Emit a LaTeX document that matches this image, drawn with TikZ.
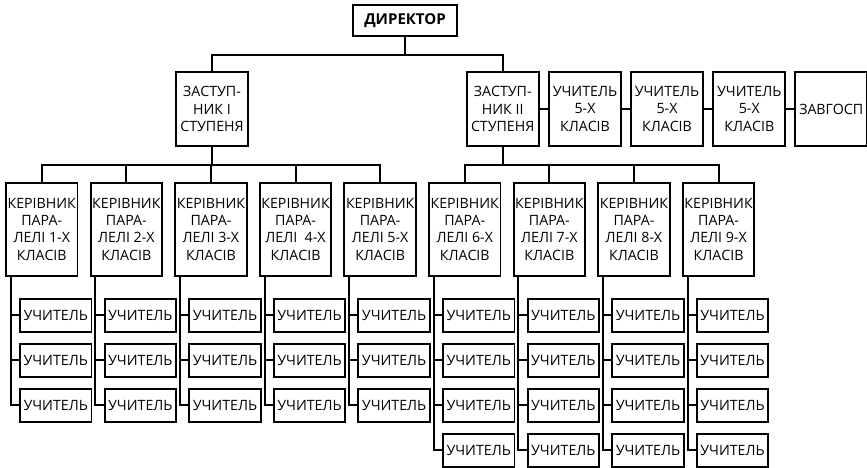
\documentclass[tikz,border=0pt]{standalone}
\usepackage{fontspec}
\setmainfont{Open Sans}
\begin{document}
\begin{tikzpicture}[x=1pt,y=-1pt,
  box/.style={draw,line width=1.9pt,inner sep=0pt,align=center,font=\fontsize{14.2}{17.3}\selectfont},
  conn/.style={line width=1.9pt}]
\useasboundingbox (0,0) rectangle (867,468);
\node[box,minimum width=104pt,minimum height=31pt,font=\fontsize{15}{17.3}\selectfont\bfseries] (dir) at (405,20.5) {ДИРЕКТОР};
\node[box,minimum width=72pt,minimum height=74pt] (depA) at (212,109) {ЗАСТУП-\\НИК І\\СТУПЕНЯ};
\node[box,minimum width=72pt,minimum height=74pt] (depB) at (502.7,109) {ЗАСТУП-\\НИК ІІ\\СТУПЕНЯ};
\node[box,minimum width=72pt,minimum height=74pt] (u1) at (585,109) {УЧИТЕЛЬ\\5-Х\\КЛАСІВ};
\node[box,minimum width=72pt,minimum height=74pt] (u2) at (667,109) {УЧИТЕЛЬ\\5-Х\\КЛАСІВ};
\node[box,minimum width=72pt,minimum height=74pt] (u3) at (749.3,109) {УЧИТЕЛЬ\\5-Х\\КЛАСІВ};
\node[box,minimum width=72pt,minimum height=74pt] (zav) at (831.2,109) {ЗАВГОСП};
\draw[conn] (dir.south) -- ++(0,18) coordinate (jt) -| (depA.north);
\draw[conn] (jt) -| (depB.north);
\draw[conn] (depB.east) -- (u1.west);
\draw[conn] (u1.east) -- (u2.west);
\draw[conn] (u2.east) -- (u3.west);
\draw[conn] (u3.east) -- (zav.west);
\foreach \i/\lab/\n in {1/1-Х/3,2/2-Х/3,3/3-Х/3,4/{\ 4-Х}/3,5/5-Х/3,6/6-Х/4,7/7-Х/4,8/8-Х/4,9/9-Х/4}{
  \pgfmathsetmacro{\hx}{41.75+84.6*(\i-1)}
  \node[box,minimum width=71.5pt,minimum height=93.3pt] (h\i) at (\hx,229.3) {КЕРІВНИК\\ПАРА-\\ЛЕЛІ \lab\\КЛАСІВ};
  \coordinate (s\i) at ([xshift=5.7pt]h\i.south west);
  \foreach \k in {1,...,\n}{
    \pgfmathsetmacro{\ty}{315.3+45*(\k-1)}
    \node[box,minimum width=71.5pt,minimum height=32.5pt] (t\i-\k) at (\hx+14,\ty) {УЧИТЕЛЬ};
    \draw[conn] (s\i) |- (t\i-\k.west);
  }
}
\foreach \i in {1,...,5}{\draw[conn] (depA.south) -- ++(0,18) -| (h\i.north);}
\foreach \i in {6,...,9}{\draw[conn] (depB.south) -- ++(0,18) -| (h\i.north);}
\end{tikzpicture}
\end{document}
